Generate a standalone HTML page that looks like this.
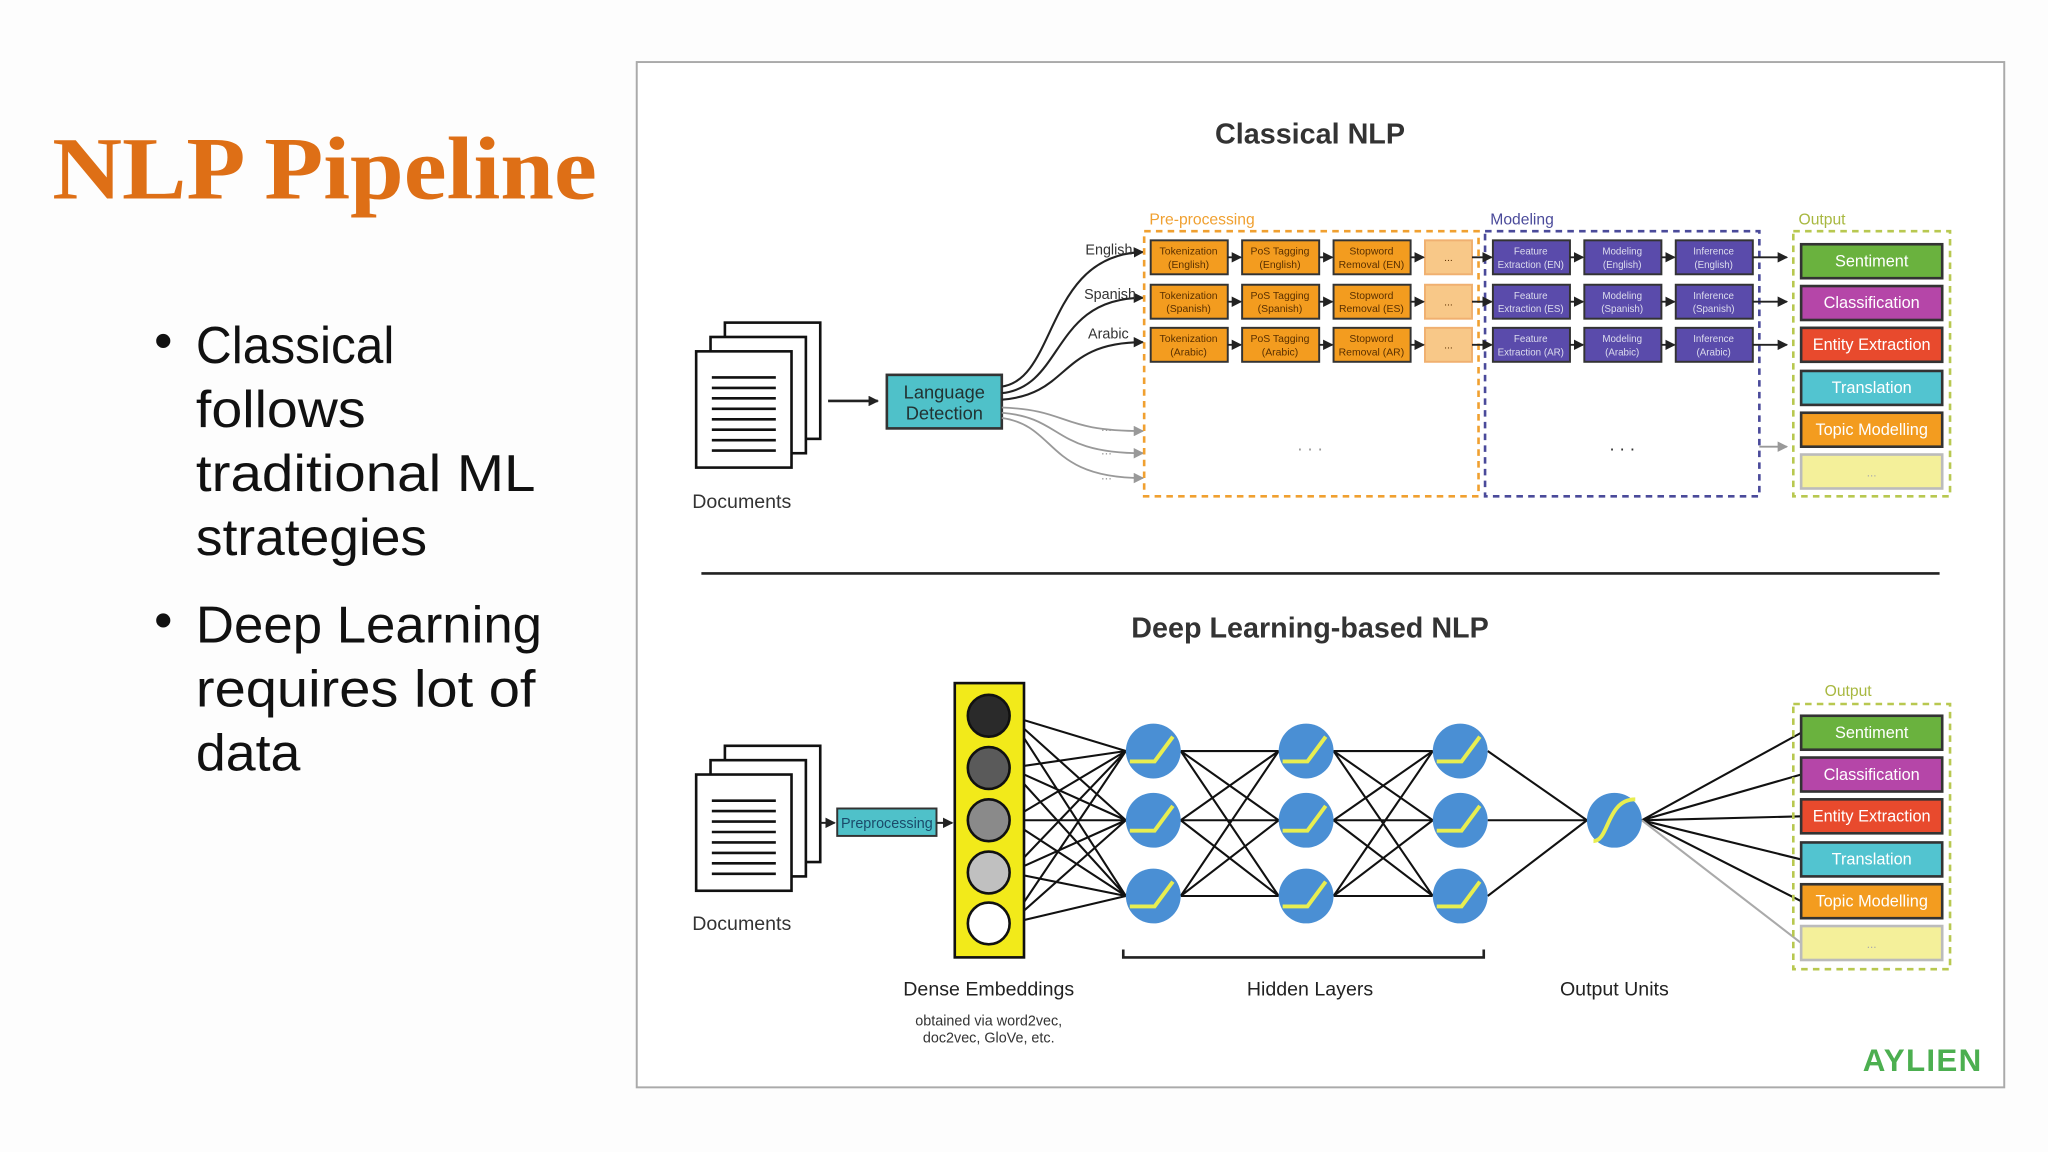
<!DOCTYPE html>
<html><head><meta charset="utf-8"><style>
html,body{margin:0;padding:0;background:#fdfdfd;}
svg{display:block}
</style></head><body>
<svg width="2048" height="1152" viewBox="0 0 1568 882" xmlns="http://www.w3.org/2000/svg" font-family="'Liberation Sans', sans-serif">
<defs>
<marker id="ah" markerWidth="8" markerHeight="8" refX="7" refY="4" orient="auto" markerUnits="userSpaceOnUse"><path d="M0,0 L8,4 L0,8 z" fill="#222"/></marker>
<marker id="ag" markerWidth="8" markerHeight="8" refX="7" refY="4" orient="auto" markerUnits="userSpaceOnUse"><path d="M0,0 L8,4 L0,8 z" fill="#999"/></marker>
<g id="doc"><rect x="0" y="0" width="73" height="89" fill="#fff" stroke="#111" stroke-width="2"/>
<path d="M12 20H61M12 28H61M12 36H61M12 44H61M12 52H61M12 60H61M12 68H61M12 76H61" stroke="#111" stroke-width="2"/></g>
</defs>
<rect width="1568" height="882" fill="#fdfdfd"/>
<text x="40" y="152" font-family="'Liberation Serif', serif" font-weight="bold" font-size="68" fill="#de6f16" textLength="417" lengthAdjust="spacingAndGlyphs">NLP Pipeline</text>
<g font-size="40" fill="#111">
<text x="118" y="274">•</text><text x="150" y="278" textLength="152" lengthAdjust="spacingAndGlyphs">Classical</text><text x="150" y="327" textLength="130" lengthAdjust="spacingAndGlyphs">follows</text><text x="150" y="376" textLength="260" lengthAdjust="spacingAndGlyphs">traditional ML</text><text x="150" y="425" textLength="177" lengthAdjust="spacingAndGlyphs">strategies</text>
<text x="118" y="488">•</text><text x="150" y="492" textLength="265" lengthAdjust="spacingAndGlyphs">Deep Learning</text><text x="150" y="541" textLength="260" lengthAdjust="spacingAndGlyphs">requires lot of</text><text x="150" y="590" textLength="80" lengthAdjust="spacingAndGlyphs">data</text>
</g>
<rect x="487.5" y="47.5" width="1047" height="785" fill="#fff" stroke="#aaa" stroke-width="1.5"/>
<text x="1003" y="110" text-anchor="middle" font-size="22" font-weight="bold" fill="#333">Classical NLP</text>
<use href="#doc" x="555" y="247"/><use href="#doc" x="544" y="258"/><use href="#doc" x="533" y="269"/>
<text x="530" y="389" font-size="15" fill="#333">Documents</text>
<line x1="634" y1="307" x2="672" y2="307" stroke="#222" stroke-width="2" marker-end="url(#ah)"/>
<rect x="679" y="287" width="88" height="41" fill="#4fc1c9" stroke="#333" stroke-width="2"/>
<text x="723" y="305" text-anchor="middle" font-size="14" fill="#233">Language</text><text x="723" y="321" text-anchor="middle" font-size="14" fill="#233">Detection</text>
<g fill="none" stroke="#222" stroke-width="1.6">
<path d="M767 296 C810 290,800 195,875 193" marker-end="url(#ah)"/>
<path d="M767 301 C815 296,805 228,875 228" marker-end="url(#ah)"/>
<path d="M767 306 C820 302,810 262,875 262" marker-end="url(#ah)"/>
</g>
<g fill="none" stroke="#999" stroke-width="1.4">
<path d="M767 312 C820 314,810 330,875 330" marker-end="url(#ag)"/>
<path d="M767 316 C815 320,805 347,875 347" marker-end="url(#ag)"/>
<path d="M767 320 C810 326,800 366,875 366" marker-end="url(#ag)"/>
</g>
<g font-size="11" fill="#333"><text x="831" y="195">English</text><text x="830" y="229">Spanish</text><text x="833" y="259">Arabic</text></g>
<g font-size="10" fill="#999"><text x="843" y="330">...</text><text x="843" y="348">...</text><text x="843" y="367">...</text></g>
<text x="880" y="172" font-size="12" fill="#f0a030">Pre-processing</text>
<text x="1141" y="172" font-size="12" fill="#4a4a9a">Modeling</text>
<text x="1377" y="172" font-size="12" fill="#a8b840">Output</text>
<rect x="876" y="177" width="256" height="203" fill="none" stroke="#f0a030" stroke-width="2" stroke-dasharray="5,4"/>
<rect x="1137" y="177" width="210" height="203" fill="none" stroke="#4a4a9a" stroke-width="2" stroke-dasharray="5,4"/>
<rect x="1373" y="177" width="120" height="203" fill="none" stroke="#b8c850" stroke-width="2" stroke-dasharray="5,4"/>
<g stroke="#333" stroke-width="1.5">
<g fill="#f39c1f">
<rect x="881" y="184" width="59" height="26"/><rect x="951" y="184" width="59" height="26"/><rect x="1021" y="184" width="59" height="26"/>
<rect x="881" y="218" width="59" height="26"/><rect x="951" y="218" width="59" height="26"/><rect x="1021" y="218" width="59" height="26"/>
<rect x="881" y="251" width="59" height="26"/><rect x="951" y="251" width="59" height="26"/><rect x="1021" y="251" width="59" height="26"/>
</g>
<g fill="#f8c888" stroke="#f0b070"><rect x="1091" y="184" width="36" height="26"/><rect x="1091" y="218" width="36" height="26"/><rect x="1091" y="251" width="36" height="26"/></g>
<g fill="#5a4bab">
<rect x="1143" y="184" width="59" height="26"/><rect x="1213" y="184" width="59" height="26"/><rect x="1283" y="184" width="59" height="26"/>
<rect x="1143" y="218" width="59" height="26"/><rect x="1213" y="218" width="59" height="26"/><rect x="1283" y="218" width="59" height="26"/>
<rect x="1143" y="251" width="59" height="26"/><rect x="1213" y="251" width="59" height="26"/><rect x="1283" y="251" width="59" height="26"/>
</g>
</g>
<g font-size="8" text-anchor="middle" fill="#5a3000">
<text x="910" y="195">Tokenization</text><text x="910" y="205">(English)</text>
<text x="980" y="195">PoS Tagging</text><text x="980" y="205">(English)</text>
<text x="1050" y="195">Stopword</text><text x="1050" y="205">Removal (EN)</text>
<text x="910" y="229">Tokenization</text><text x="910" y="239">(Spanish)</text>
<text x="980" y="229">PoS Tagging</text><text x="980" y="239">(Spanish)</text>
<text x="1050" y="229">Stopword</text><text x="1050" y="239">Removal (ES)</text>
<text x="910" y="262">Tokenization</text><text x="910" y="272">(Arabic)</text>
<text x="980" y="262">PoS Tagging</text><text x="980" y="272">(Arabic)</text>
<text x="1050" y="262">Stopword</text><text x="1050" y="272">Removal (AR)</text>
<text x="1109" y="200">...</text><text x="1109" y="234">...</text><text x="1109" y="267">...</text>
</g>
<g font-size="7.5" text-anchor="middle" fill="#dde">
<text x="1172" y="195">Feature</text><text x="1172" y="205">Extraction (EN)</text>
<text x="1242" y="195">Modeling</text><text x="1242" y="205">(English)</text>
<text x="1312" y="195">Inference</text><text x="1312" y="205">(English)</text>
<text x="1172" y="229">Feature</text><text x="1172" y="239">Extraction (ES)</text>
<text x="1242" y="229">Modeling</text><text x="1242" y="239">(Spanish)</text>
<text x="1312" y="229">Inference</text><text x="1312" y="239">(Spanish)</text>
<text x="1172" y="262">Feature</text><text x="1172" y="272">Extraction (AR)</text>
<text x="1242" y="262">Modeling</text><text x="1242" y="272">(Arabic)</text>
<text x="1312" y="262">Inference</text><text x="1312" y="272">(Arabic)</text>
</g>
<g stroke="#222" stroke-width="1.4" marker-end="url(#ah)">
<line x1="940" y1="197" x2="950" y2="197"/><line x1="1010" y1="197" x2="1020" y2="197"/><line x1="1080" y1="197" x2="1090" y2="197"/>
<line x1="940" y1="231" x2="950" y2="231"/><line x1="1010" y1="231" x2="1020" y2="231"/><line x1="1080" y1="231" x2="1090" y2="231"/>
<line x1="940" y1="264" x2="950" y2="264"/><line x1="1010" y1="264" x2="1020" y2="264"/><line x1="1080" y1="264" x2="1090" y2="264"/>
<line x1="1127" y1="197" x2="1142" y2="197"/><line x1="1127" y1="231" x2="1142" y2="231"/><line x1="1127" y1="264" x2="1142" y2="264"/>
<line x1="1202" y1="197" x2="1212" y2="197"/><line x1="1272" y1="197" x2="1282" y2="197"/>
<line x1="1202" y1="231" x2="1212" y2="231"/><line x1="1272" y1="231" x2="1282" y2="231"/>
<line x1="1202" y1="264" x2="1212" y2="264"/><line x1="1272" y1="264" x2="1282" y2="264"/>
<line x1="1342" y1="197" x2="1368" y2="197"/><line x1="1342" y1="231" x2="1368" y2="231"/><line x1="1342" y1="264" x2="1368" y2="264"/>
</g>
<line x1="1347" y1="342" x2="1368" y2="342" stroke="#999" stroke-width="1.4" marker-end="url(#ag)"/>
<text x="1003" y="345" text-anchor="middle" font-size="14" fill="#999">. . .</text>
<text x="1242" y="345" text-anchor="middle" font-size="14" fill="#333">. . .</text>
<g stroke="#333" stroke-width="2">
<rect x="1379" y="187" width="108" height="26" fill="#6ab23e"/>
<rect x="1379" y="219" width="108" height="26" fill="#b546a8"/>
<rect x="1379" y="251" width="108" height="26" fill="#e84a2d"/>
<rect x="1379" y="284" width="108" height="26" fill="#52c4d0"/>
<rect x="1379" y="316" width="108" height="26" fill="#f39c1f"/>
<rect x="1379" y="348" width="108" height="26" fill="#f4f09a" stroke="#bbb"/>
</g>
<g font-size="12.5" text-anchor="middle" fill="#fff">
<text x="1433" y="204">Sentiment</text><text x="1433" y="236">Classification</text><text x="1433" y="268">Entity Extraction</text>
<text x="1433" y="301">Translation</text><text x="1433" y="333">Topic Modelling</text><text x="1433" y="365" fill="#aaa" font-size="9">...</text>
</g>
<line x1="537" y1="439" x2="1485" y2="439" stroke="#222" stroke-width="2"/>
<text x="1003" y="488" text-anchor="middle" font-size="22" font-weight="bold" fill="#333">Deep Learning-based NLP</text>
<use href="#doc" x="555" y="571"/><use href="#doc" x="544" y="582"/><use href="#doc" x="533" y="593"/>
<text x="530" y="712" font-size="15" fill="#333">Documents</text>
<line x1="628" y1="630" x2="639" y2="630" stroke="#222" stroke-width="1.5" marker-end="url(#ah)"/>
<rect x="641" y="619" width="76" height="21" fill="#4fc1c9" stroke="#333" stroke-width="1.5"/>
<text x="679" y="634" text-anchor="middle" font-size="11" fill="#1a4a6a">Preprocessing</text>
<line x1="717" y1="630" x2="729" y2="630" stroke="#222" stroke-width="1.5" marker-end="url(#ah)"/>
<g stroke="#111" stroke-width="1.6" fill="none">
<path d="M773 548L862 575M773 548L862 628M773 548L862 686M773 588L862 575M773 588L862 628M773 588L862 686M773 628L862 575M773 628L862 628M773 628L862 686M773 668L862 575M773 668L862 628M773 668L862 686M773 707L862 575M773 707L862 628M773 707L862 686"/>
<path d="M904 575L979 575M904 575L979 628M904 575L979 686M904 628L979 575M904 628L979 628M904 628L979 686M904 686L979 575M904 686L979 628M904 686L979 686"/>
<path d="M1021 575L1097 575M1021 575L1097 628M1021 575L1097 686M1021 628L1097 575M1021 628L1097 628M1021 628L1097 686M1021 686L1097 575M1021 686L1097 628M1021 686L1097 686"/>
<path d="M1139 575L1215 628M1139 628L1215 628M1139 686L1215 628"/>
<path d="M1257 628L1379 561M1257 628L1379 593M1257 628L1379 625M1257 628L1379 658M1257 628L1379 690"/>
</g>
<line x1="1257" y1="628" x2="1379" y2="722" stroke="#aaa" stroke-width="1.6"/>
<rect x="731" y="523" width="53" height="210" fill="#f2ea1a" stroke="#111" stroke-width="2"/>
<g stroke="#111" stroke-width="2">
<circle cx="757" cy="548" r="16" fill="#2a2a2a"/><circle cx="757" cy="588" r="16" fill="#5a5a5a"/><circle cx="757" cy="628" r="16" fill="#8a8a8a"/><circle cx="757" cy="668" r="16" fill="#c0c0c0"/><circle cx="757" cy="707" r="16" fill="#fff"/>
</g>
<g fill="#4a8fd4">
<circle cx="883" cy="575" r="21"/><circle cx="883" cy="628" r="21"/><circle cx="883" cy="686" r="21"/>
<circle cx="1000" cy="575" r="21"/><circle cx="1000" cy="628" r="21"/><circle cx="1000" cy="686" r="21"/>
<circle cx="1118" cy="575" r="21"/><circle cx="1118" cy="628" r="21"/><circle cx="1118" cy="686" r="21"/>
<circle cx="1236" cy="628" r="21"/>
</g>
<g fill="none" stroke="#e8ee50" stroke-width="3">
<path d="M865 583H884L898 564"/><path d="M865 636H884L898 617"/><path d="M865 694H884L898 675"/>
<path d="M982 583H1001L1015 564"/><path d="M982 636H1001L1015 617"/><path d="M982 694H1001L1015 675"/>
<path d="M1100 583H1119L1133 564"/><path d="M1100 636H1119L1133 617"/><path d="M1100 694H1119L1133 675"/>
<path d="M1220 644C1232 644,1230 612,1252 612"/>
</g>
<text x="1397" y="533" font-size="12" fill="#a8b840">Output</text>
<rect x="1373" y="539" width="120" height="203" fill="none" stroke="#b8c850" stroke-width="2" stroke-dasharray="5,4"/>
<g stroke="#333" stroke-width="2">
<rect x="1379" y="548" width="108" height="26" fill="#6ab23e"/>
<rect x="1379" y="580" width="108" height="26" fill="#b546a8"/>
<rect x="1379" y="612" width="108" height="26" fill="#e84a2d"/>
<rect x="1379" y="645" width="108" height="26" fill="#52c4d0"/>
<rect x="1379" y="677" width="108" height="26" fill="#f39c1f"/>
<rect x="1379" y="709" width="108" height="26" fill="#f4f09a" stroke="#bbb"/>
</g>
<g font-size="12.5" text-anchor="middle" fill="#fff">
<text x="1433" y="565">Sentiment</text><text x="1433" y="597">Classification</text><text x="1433" y="629">Entity Extraction</text>
<text x="1433" y="662">Translation</text><text x="1433" y="694">Topic Modelling</text><text x="1433" y="726" fill="#aaa" font-size="9">...</text>
</g>
<path d="M860 727V733H1136V727" fill="none" stroke="#222" stroke-width="2"/>
<g font-size="15" fill="#222" text-anchor="middle">
<text x="757" y="762">Dense Embeddings</text><text x="1003" y="762">Hidden Layers</text><text x="1236" y="762">Output Units</text>
</g>
<text x="757" y="785" text-anchor="middle" font-size="11" fill="#333">obtained via word2vec,</text>
<text x="757" y="798" text-anchor="middle" font-size="11" fill="#333">doc2vec, GloVe, etc.</text>
<text x="1472" y="820" text-anchor="middle" font-size="24" font-weight="bold" fill="#4caf50" letter-spacing="1">AYLIEN</text>
</svg>
</body></html>
